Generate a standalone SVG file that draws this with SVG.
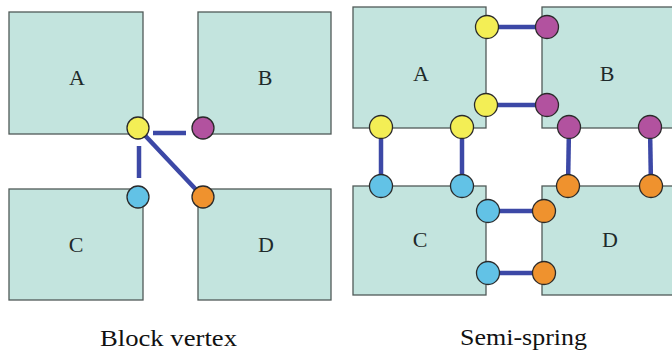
<svg xmlns="http://www.w3.org/2000/svg" width="672" height="352" viewBox="0 0 672 352">
<style>
.box{fill:#c3e4de;stroke:#505a58;stroke-width:1.3}
.lbl{font-family:"Liberation Serif","Times New Roman",serif;font-size:22px;fill:#1e2a2a;text-anchor:middle}
.cap{font-family:"Liberation Serif","Times New Roman",serif;font-size:23px;fill:#111}
.con{stroke:#3c48a6;stroke-width:4.5;fill:none}
.p{stroke:#2a2a2a;stroke-width:1.3}
.y{fill:#f3ee55}.m{fill:#b2529f}.b{fill:#62c2e6}.o{fill:#ef922e}
</style>
<rect width="672" height="352" fill="#ffffff"/>
<g id="left-A"><rect class="box" x="9" y="12" width="134" height="122"/><text class="lbl" x="77" y="85">A</text></g>
<g id="left-B"><rect class="box" x="198" y="12" width="133" height="122"/><text class="lbl" x="265" y="85">B</text></g>
<g id="left-C"><rect class="box" x="9" y="189" width="134" height="111"/><text class="lbl" x="76" y="252">C</text></g>
<g id="left-D"><rect class="box" x="198" y="189" width="133" height="111"/><text class="lbl" x="266" y="252">D</text></g>
<g id="right-A"><rect class="box" x="353" y="7" width="133" height="121"/><text class="lbl" x="421" y="81">A</text></g>
<g id="right-B"><rect class="box" x="542" y="7" width="140" height="121"/><text class="lbl" x="607" y="81">B</text></g>
<g id="right-C"><rect class="box" x="353" y="186" width="133" height="109"/><text class="lbl" x="420" y="247">C</text></g>
<g id="right-D"><rect class="box" x="542" y="186" width="140" height="109"/><text class="lbl" x="610" y="247">D</text></g>
<g id="connectors">
<line class="con" x1="153" y1="133" x2="186" y2="133"/>
<line class="con" x1="139" y1="146" x2="139" y2="178"/>
<line class="con" x1="138" y1="128" x2="203" y2="197"/>
<line class="con" x1="487" y1="27" x2="547" y2="27"/>
<line class="con" x1="486" y1="105" x2="547" y2="105"/>
<line class="con" x1="381" y1="127" x2="381" y2="186"/>
<line class="con" x1="462" y1="127" x2="462" y2="186"/>
<line class="con" x1="569" y1="127" x2="568" y2="186"/>
<line class="con" x1="650" y1="127" x2="651" y2="186"/>
<line class="con" x1="488" y1="211" x2="544" y2="211"/>
<line class="con" x1="488" y1="273" x2="544" y2="273"/>
</g>
<g id="ports">
<circle class="p y" cx="138" cy="128" r="11"/>
<circle class="p m" cx="203" cy="128" r="11"/>
<circle class="p b" cx="138" cy="197" r="11"/>
<circle class="p o" cx="203" cy="197" r="11"/>
<circle class="p y" cx="487" cy="27" r="11.5"/>
<circle class="p m" cx="547" cy="27" r="11.5"/>
<circle class="p y" cx="486" cy="105" r="11.5"/>
<circle class="p m" cx="547" cy="105" r="11.5"/>
<circle class="p y" cx="381" cy="127" r="11.5"/>
<circle class="p y" cx="462" cy="127" r="11.5"/>
<circle class="p b" cx="381" cy="186" r="11.5"/>
<circle class="p b" cx="462" cy="186" r="11.5"/>
<circle class="p m" cx="569" cy="127" r="11.5"/>
<circle class="p m" cx="650" cy="127" r="11.5"/>
<circle class="p o" cx="568" cy="186" r="11.5"/>
<circle class="p o" cx="651" cy="186" r="11.5"/>
<circle class="p b" cx="488" cy="211" r="11.5"/>
<circle class="p o" cx="544" cy="211" r="11.5"/>
<circle class="p b" cx="488" cy="273" r="11.5"/>
<circle class="p o" cx="544" cy="273" r="11.5"/>
</g>
<text class="cap" x="100" y="346" textLength="137" lengthAdjust="spacingAndGlyphs">Block vertex</text>
<text class="cap" x="460" y="345" textLength="127" lengthAdjust="spacingAndGlyphs">Semi-spring</text>
</svg>
